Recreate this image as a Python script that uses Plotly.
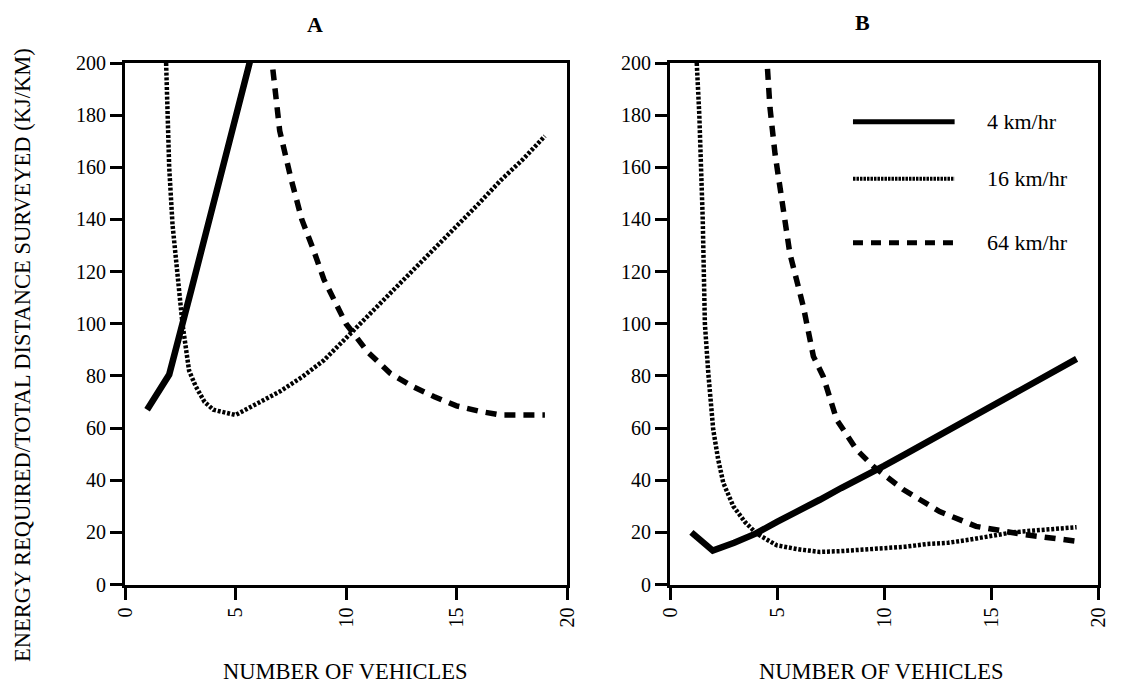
import plotly.graph_objects as go

# ---------------- data ----------------
# Panel A
a_4_x = [1, 2, 3, 4, 5, 6]
a_4_y = [67, 80.5, 113, 146, 179, 212]

a_16_x = [1.86, 2.0, 2.15, 2.35, 2.6, 2.9, 3.2, 3.6, 4.0, 4.5, 5, 6, 7, 8, 9, 10,
          11, 12, 13, 14, 15, 16, 17, 18, 19]
a_16_y = [200, 160, 138, 120, 100, 82, 76, 70, 67, 66, 65, 69.5, 74, 79.5, 86, 94.5,
          103, 111.5, 120, 129, 137.5, 146, 155, 163, 172]

a_64_x = [6.5, 7, 7.5, 8, 8.5, 9, 10, 11, 12, 13, 14, 15, 16, 17, 18, 19]
a_64_y = [212, 174, 156, 140, 129, 117, 100, 89, 81, 76, 72, 68.5, 66.5, 65, 65, 65]

# Panel B
b_4_x = [1, 2, 3, 4, 5, 6, 7, 8, 9, 10, 11, 12, 13, 14, 15, 16, 17, 18, 19]
b_4_y = [20, 13, 16, 19.5, 24, 28, 32.5, 37, 41, 45.5, 50, 54.5, 59, 63.5, 68, 73, 77.5, 82, 86.5]

b_16_x = [1.25, 1.37, 1.53, 1.63, 1.79, 2.02, 2.25, 2.49, 2.96, 3.5, 4.05, 5, 6, 7, 8, 9,
          10, 11, 12, 13, 14, 15, 16, 17, 18, 19]
b_16_y = [200, 180, 140, 100, 81, 59.4, 48, 39, 30, 24, 19.5, 15, 13.5, 12.5, 12.8, 13.3,
          14, 14.5, 15.5, 16, 17.2, 18.7, 20, 20.7, 21.3, 22]

b_64_x = [4.5, 4.67, 4.91, 5.22, 5.6, 6.23, 6.7, 7.16, 7.79, 8.72, 9.5, 10.9, 12.6, 14.3,
          16.5, 19]
b_64_y = [205, 183, 165, 147.5, 127, 106.6, 87.5, 79.8, 63.2, 51.7, 45.3, 36.4, 28, 22.3,
          19.2, 16.6]

series_names = ["4 km/hr", "16 km/hr", "64 km/hr"]
x_ticks = [0, 5, 10, 15, 20]
y_ticks = [0, 20, 40, 60, 80, 100, 120, 140, 160, 180, 200]
panel_titles = ["A", "B"]
x_title = "NUMBER OF VEHICLES"
y_title = "ENERGY REQUIRED/TOTAL DISTANCE SURVEYED (KJ/KM)"

# ---------------- styles ----------------
FONT = "Liberation Serif"
W, H = 1131, 682
OFF = 8  # page body margin
styles = [
    dict(color="black", width=6.5),
    dict(color="black", width=4.5, dash="3px,1.8px"),
    dict(color="black", width=5.5, dash="11px,8px"),
]
legend_styles = [
    dict(color="black", width=5),
    dict(color="black", width=4, dash="2.5px,1px"),
    dict(color="black", width=5, dash="10px,8px"),
]


def px(xp):
    return (xp - OFF) / W


def py(yp):
    return 1 - (yp - OFF) / H


fig = go.Figure()
panelA = [(a_4_x, a_4_y), (a_16_x, a_16_y), (a_64_x, a_64_y)]
panelB = [(b_4_x, b_4_y), (b_16_x, b_16_y), (b_64_x, b_64_y)]
for (xs, ys), st, nm in zip(panelA, styles, series_names):
    fig.add_trace(go.Scatter(x=xs, y=ys, mode="lines", line=st, name=nm,
                             showlegend=False, xaxis="x", yaxis="y"))
for (xs, ys), st, nm in zip(panelB, styles, series_names):
    fig.add_trace(go.Scatter(x=xs, y=ys, mode="lines", line=st, name=nm,
                             showlegend=False, xaxis="x2", yaxis="y2"))

ydom = [py(584.5), py(63)]
axis_common = dict(showgrid=False, zeroline=False, showline=True, linecolor="black",
                   linewidth=3, mirror=True, ticks="outside", ticklen=12, tickwidth=2.5,
                   tickcolor="black", automargin=False,
                   tickfont=dict(family=FONT, size=20, color="black"))

fig.update_layout(
    width=W, height=H, autosize=False,
    margin=dict(l=0, r=0, t=0, b=0),
    plot_bgcolor="white", paper_bgcolor="white",
    xaxis=dict(domain=[px(125), px(567)], range=[0, 20], tickvals=x_ticks,
               tickangle=-90, anchor="y", **axis_common),
    yaxis=dict(domain=ydom, range=[0, 200], tickvals=y_ticks, anchor="x", **axis_common),
    xaxis2=dict(domain=[px(670), px(1098)], range=[0, 20], tickvals=x_ticks,
                tickangle=-90, anchor="y2", **axis_common),
    yaxis2=dict(domain=ydom, range=[0, 200], tickvals=y_ticks, anchor="x2", **axis_common),
)

# panel titles and axis titles
C = dict(xref="paper", yref="paper", xanchor="center", yanchor="middle", showarrow=False)
ann = []
ann.append(dict(text="<b>" + panel_titles[0] + "</b>", x=px(315), y=py(25),
                font=dict(family=FONT, size=22, color="black"), **C))
ann.append(dict(text="<b>" + panel_titles[1] + "</b>", x=px(862), y=py(23),
                font=dict(family=FONT, size=22, color="black"), **C))
for cx in (345, 881):
    ann.append(dict(text=x_title, x=px(cx), y=py(671),
                    font=dict(family=FONT, size=22.5, color="black"), **C))
ann.append(dict(text=y_title, x=px(22), y=py(355), textangle=-90,
                font=dict(family=FONT, size=22.5, color="black"), **C))

# legend drawn inside panel B
leg_y = [177.5, 155.6, 131.1]
for st, nm, ly in zip(legend_styles, series_names, leg_y):
    fig.add_shape(type="line", xref="x2", yref="y2", x0=8.55, x1=13.3, y0=ly, y1=ly,
                  line=st)
    ann.append(dict(text=nm, x=14.7, y=ly, xref="x2", yref="y2", xanchor="left",
                    yanchor="middle", showarrow=False,
                    font=dict(family=FONT, size=22, color="black")))
fig.update_layout(annotations=ann)

fig.write_html("out.html")
